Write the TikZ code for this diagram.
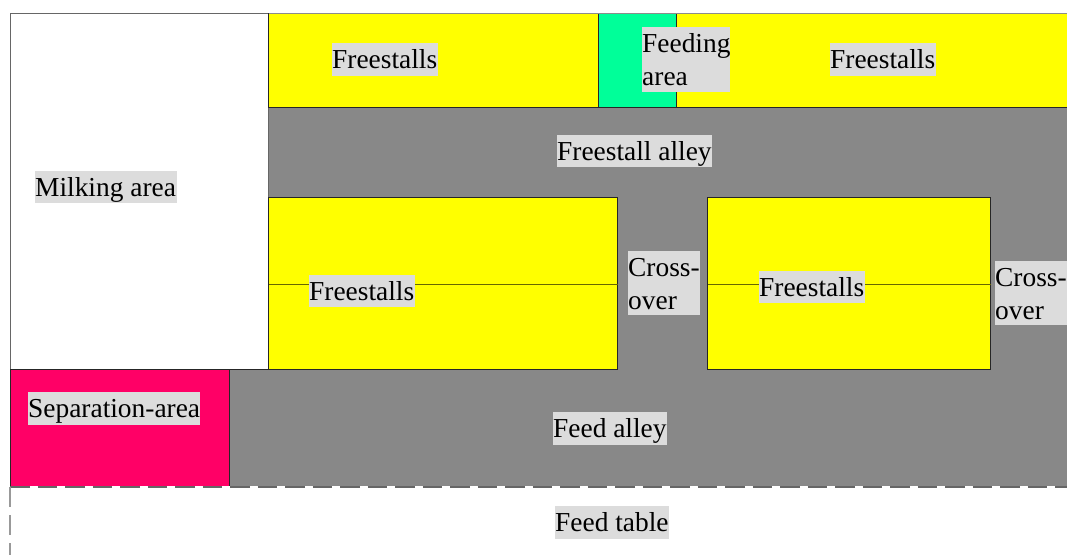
\documentclass[tikz,border=0pt]{standalone}
\usepackage{fontspec}
\setmainfont{Liberation Serif}
\tikzset{
  area/.style={draw=black!85,line width=0.8pt},
  lab/.style={fill=labgray,inner sep=0pt,anchor=north west,text=black,
    font=\fontsize{27.4}{32.4}\selectfont},
}
\definecolor{labgray}{HTML}{DCDCDC}
\definecolor{alleygray}{HTML}{888888}
\definecolor{stallyellow}{HTML}{FFFF00}
\definecolor{feedgreen}{HTML}{00FF99}
\definecolor{seprred}{HTML}{FF0066}
\newcommand{\lbl}[6]{\node[lab,text height=25.5pt,text depth={#5pt-25.5pt}] (#1) at (#2,#3) {\makebox[#4pt][l]{\begin{tabular}[t]{@{}l@{}}#6\end{tabular}}};}
\begin{document}
\begin{tikzpicture}[x=1pt,y=-1pt]
\useasboundingbox (0,0) rectangle (1067,555);
\fill[white] (0,0) rectangle (1067,555);
% gray alley regions
\fill[alleygray] (268.5,107) rectangle (1067,369);
\fill[alleygray] (229.5,369) rectangle (1067,487);
% milking area
\draw[area,fill=white,draw=black!60] (10,13) rectangle (268.5,369);
% top row
\draw[area,fill=stallyellow] (268.5,13) rectangle (598.5,107);
\draw[area,fill=feedgreen] (598.5,13) rectangle (676.5,107);
\draw[area,fill=stallyellow] (676.5,13) rectangle (1067,107);
\draw[black!45,line width=0.8pt] (268.5,13) -- (1067,13);
% lower stalls
\draw[area,fill=stallyellow] (268.5,197.5) rectangle (617.8,369);
\draw[area,fill=stallyellow] (707.8,197.5) rectangle (990.8,369);
\draw[black!60!stallyellow,line width=0.9pt] (268.5,284) -- (617.8,284);
\draw[black!60!stallyellow,line width=0.9pt] (707.8,284) -- (990.8,284);
% separation area
\draw[area,fill=seprred] (10,369) rectangle (229.5,487);
\draw[black!85,line width=0.8pt] (10,369) -- (268.5,369);
% feed table edge
\draw[white,line width=1.6pt] (10,487) -- (1067,487);
\draw[black!60,line width=1.6pt,dash pattern=on 19.5pt off 8pt] (10,487) -- (1067,487);
\draw[black!40,line width=1.6pt,dash pattern=on 20pt off 8pt] (10,487) -- (10,555);
% labels
\lbl{a}{332}{43}{106}{33}{Freestalls}
\lbl{b}{642}{27}{88}{65}{Feeding\\area}
\lbl{c}{830}{43}{106}{33}{Freestalls}
\lbl{d}{557}{135}{155}{32}{Freestall alley}
\lbl{e}{35}{171}{142}{32}{Milking area}
\lbl{f}{309}{275}{106}{32}{Freestalls}
\lbl{g}{628}{251}{72}{64}{Cross-\\over}
\lbl{h}{759}{271}{106}{32}{Freestalls}
\lbl{i}{995}{261}{72}{64}{Cross-\\over}
\lbl{j}{28}{392}{172}{33}{Separation-area}
\lbl{k}{553}{412}{114}{33}{Feed alley}
\lbl{l}{555}{506}{114}{33}{Feed table}
\end{tikzpicture}
\end{document}
